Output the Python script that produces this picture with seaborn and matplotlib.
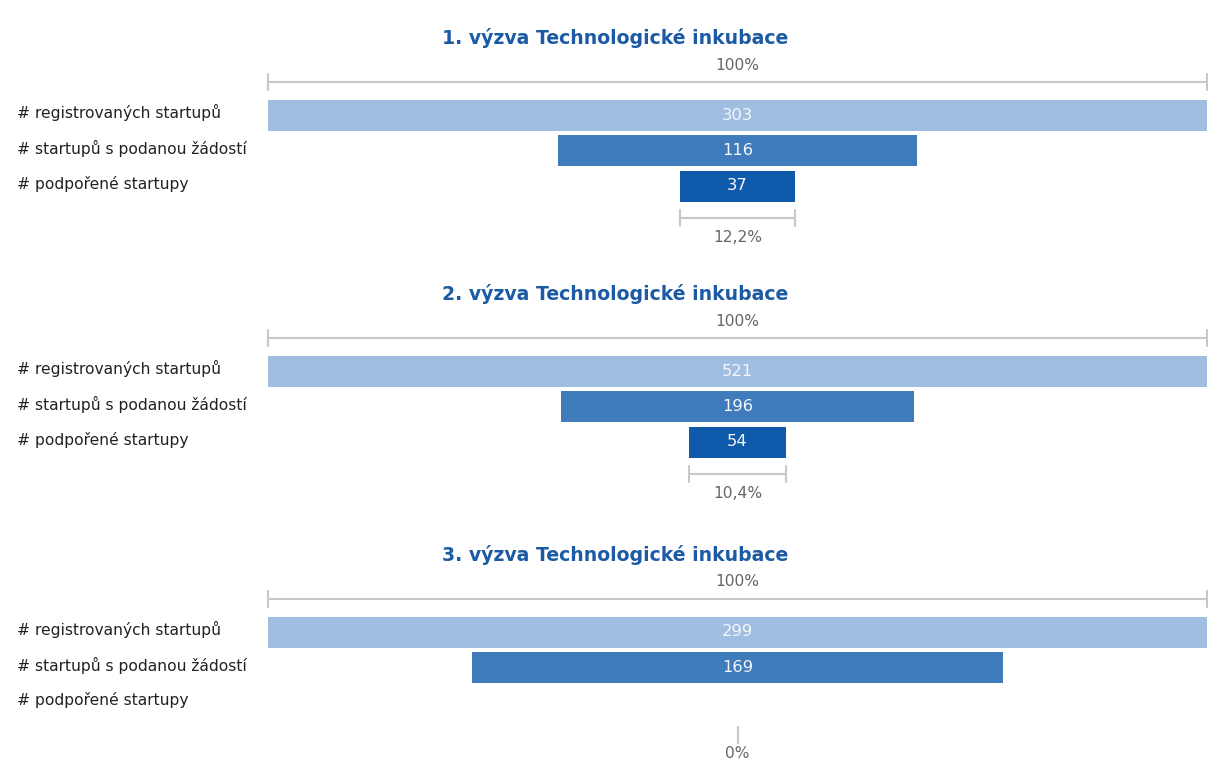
import matplotlib
matplotlib.use("Agg")
import matplotlib.pyplot as plt
import matplotlib.transforms as mtransforms
import seaborn as sns
import pandas as pd

# ---- data ----
titles = ["1. výzva Technologické inkubace",
          "2. výzva Technologické inkubace",
          "3. výzva Technologické inkubace"]
stages = ["# registrovaných startupů",
          "# startupů s podanou žádostí",
          "# podpořené startupy"]
call1 = [303, 116, 37]
call2 = [521, 196, 54]
call3 = [299, 169, 0]
top_label = "100%"

# ---- style ----
sns.set_theme(style="white")
plt.rcParams['font.family'] = ['DejaVu Sans']
bar_colors = ["#a0bedf", "#407cbc", "#105aab"]
title_color = "#1c5aa6"
grey_line = "#c8c8c8"
grey_text = "#666666"
label_color = "#222222"

W, H = 1225, 763
fig = plt.figure(figsize=(W / 100, H / 100), dpi=100)

dy = 35.5          # px per category row
bar_h = 31 / dy    # relative bar thickness
left_px, right_px = 268, 1207
row0_centers = [115, 371, 632]
fs_lab = 11.2
fs_small = 11.2
fs_val = 11.8
fs_title = 13.6


def fmt_pct(v):
    s = f"{v:.1f}".replace(".", ",")
    if s.endswith(",0"):
        s = s[:-2]
    return s + "%"


for title, vals, c0 in zip(titles, [call1, call2, call3], row0_centers):
    top_px = c0 - dy / 2
    ax = fig.add_axes([left_px / W, 1 - (top_px + 3 * dy) / H,
                       (right_px - left_px) / W, 3 * dy / H])
    df = pd.DataFrame({"stage": stages, "value": vals})
    sns.barplot(data=df, x="value", y="stage", hue="stage", order=stages,
                hue_order=stages, palette=bar_colors, orient="h",
                width=bar_h, linewidth=0, saturation=1, legend=False, ax=ax)
    vmax = max(vals)
    for p in ax.patches:
        p.set_x(-p.get_width() / 2)
    ax.set_xlim(-vmax / 2, vmax / 2)
    ax.set_ylim(2.5, -0.5)
    for s in ax.spines.values():
        s.set_visible(False)
    ax.set_xticks([])
    ax.set_yticks([])
    ax.set_xlabel("")
    ax.set_ylabel("")

    # category labels at the left edge of the figure
    tr = mtransforms.blended_transform_factory(fig.transFigure, ax.transData)
    for i, lab in enumerate(stages):
        ax.text(17 / W, i - 2.5 / dy, lab, transform=tr, ha="left",
                va="center", fontsize=fs_lab, color=label_color)

    # value labels
    for i, v in enumerate(vals):
        if v > 0:
            ax.text(0, i, str(v), ha="center", va="center",
                    color="#f4f7fb", fontsize=fs_val)

    # top 100% bracket
    yl = -33 / dy
    tk = 8 / dy
    ax.plot([-vmax / 2, vmax / 2], [yl, yl], color=grey_line, lw=1.5,
            clip_on=False, solid_capstyle="butt")
    for xe in (-vmax / 2, vmax / 2):
        ax.plot([xe, xe], [yl - tk, yl + tk], color=grey_line, lw=1.5,
                clip_on=False)
    ax.text(0, -50 / dy, top_label, ha="center", va="center",
            color=grey_text, fontsize=fs_small)
    ax.text(615 / W, -77 / dy, title, transform=tr, ha="center",
            va="center", color=title_color, fontsize=fs_title,
            fontweight="bold")

    # bottom bracket (share of last stage)
    last = vals[-1]
    yb = 2 + 32 / dy
    ax.plot([-last / 2, last / 2], [yb, yb], color=grey_line, lw=1.5,
            clip_on=False, solid_capstyle="butt")
    for xe in (-last / 2, last / 2):
        ax.plot([xe, xe], [yb - tk, yb + tk], color=grey_line, lw=1.5,
                clip_on=False)
    ax.text(0, 2 + 51 / dy, fmt_pct(100 * last / vals[0]), ha="center",
            va="center", color=grey_text, fontsize=fs_small)

fig.savefig("out.png", dpi=100)
